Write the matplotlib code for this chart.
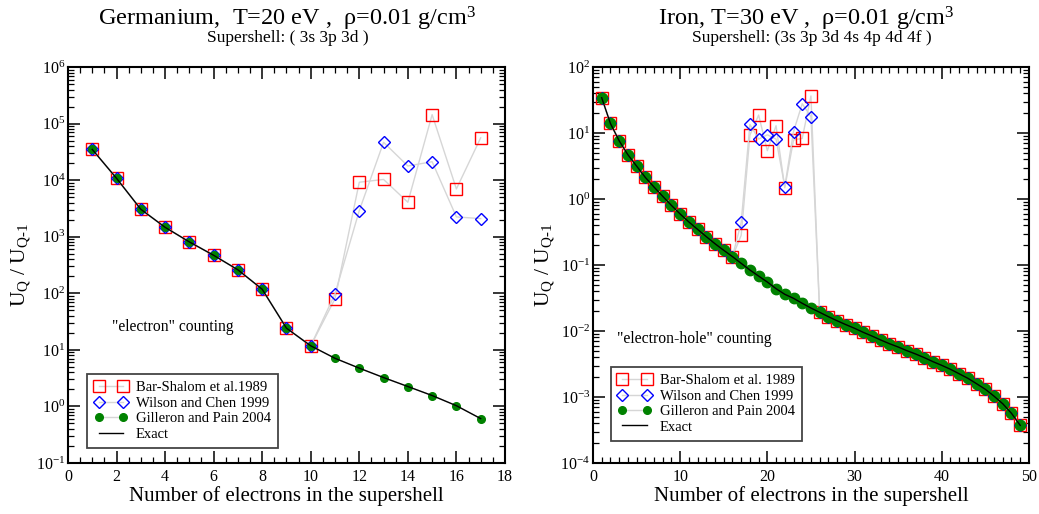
import matplotlib
matplotlib.use('Agg')
import matplotlib.pyplot as plt
from matplotlib.ticker import MultipleLocator, LogLocator, NullFormatter, LogFormatterMathtext

# ---------------- data ----------------
ge_n = list(range(1, 18))
ge_exact = [3.5e4, 1.08e4, 3.06e3, 1.47e3, 8.1e2, 4.7e2, 2.6e2, 1.18e2, 24.2, 11.8,
            7.1, 4.75, 3.24, 2.25, 1.56, 1.03, 0.61]
ge_gilleron = [3.5e4, 1.08e4, 3.06e3, 1.47e3, 8.1e2, 4.7e2, 2.6e2, 1.18e2, 24.2, 11.8,
               7.1, 4.75, 3.24, 2.25, 1.56, 1.03, 0.61]
ge_barshalom = [3.5e4, 1.08e4, 3.06e3, 1.47e3, 8.1e2, 4.7e2, 2.6e2, 1.18e2, 24.2, 11.8,
                80, 9.2e3, 1.03e4, 4.07e3, 1.44e5, 7.0e3, 5.6e4]
ge_wilson = [3.5e4, 1.08e4, 3.06e3, 1.47e3, 8.1e2, 4.7e2, 2.6e2, 1.18e2, 24.2, 11.8,
             98, 2.9e3, 4.67e4, 1.78e4, 2.12e4, 2.24e3, 2.09e3]

fe_n = list(range(1, 50))
fe_exact = [34.3, 14.0, 7.65, 4.7, 3.16, 2.13, 1.52, 1.1, 0.80, 0.593,
            0.449, 0.347, 0.269, 0.21, 0.167, 0.134, 0.106, 0.084, 0.068, 0.0552,
            0.0438, 0.036, 0.0313, 0.0263, 0.0223, 0.0192, 0.0165, 0.0143, 0.0125, 0.011,
            0.00955, 0.0084, 0.00731, 0.00643, 0.00573, 0.00504, 0.00449, 0.00395, 0.00343, 0.00302,
            0.00263, 0.00225, 0.00192, 0.00159, 0.00131, 0.00103, 0.00079, 0.000566, 0.000372]
fe_gilleron = list(fe_exact)
fe_barshalom = [34.3, 14.0, 7.65, 4.7, 3.16, 2.13, 1.52, 1.1, 0.80, 0.593,
                0.449, 0.347, 0.269, 0.21, 0.167, 0.134,
                0.282, 9.3, 18.7, 5.4, 12.9, 1.48, 7.83, 8.3, 36.4,
                0.0192, 0.0165, 0.0143, 0.0125, 0.011,
                0.00955, 0.0084, 0.00731, 0.00643, 0.00573, 0.00504, 0.00449, 0.00395, 0.00343, 0.00302,
                0.00263, 0.00225, 0.00192, 0.00159, 0.00131, 0.00103, 0.00079, 0.000566, 0.000372]
fe_wilson = [34.3, 14.0, 7.65, 4.7, 3.16, 2.13, 1.52, 1.1, 0.80, 0.593,
             0.449, 0.347, 0.269, 0.21, 0.167, 0.134,
             0.443, 13.5, 8.1, 9.4, 8.1, 1.54, 10.5, 27.8, 17.7,
             0.0192, 0.0165, 0.0143, 0.0125, 0.011,
             0.00955, 0.0084, 0.00731, 0.00643, 0.00573, 0.00504, 0.00449, 0.00395, 0.00343, 0.00302,
             0.00263, 0.00225, 0.00192, 0.00159, 0.00131, 0.00103, 0.00079, 0.000566, 0.000372]

# ---------------- style ----------------
plt.rcParams['font.family'] = ['Liberation Serif', 'DejaVu Serif']
plt.rcParams['mathtext.fontset'] = 'custom'
plt.rcParams['mathtext.rm'] = 'Liberation Serif'
plt.rcParams['mathtext.it'] = 'Liberation Serif:italic'
plt.rcParams['mathtext.bf'] = 'Liberation Serif:bold'

GRAY = '#d6d6d6'
GREEN = '#008200'

fig = plt.figure(figsize=(10.39, 5.14), dpi=100)
axL = fig.add_axes([0.0654, 0.0992, 0.4206, 0.7704])
axR = fig.add_axes([0.5707, 0.0992, 0.4196, 0.7704])


def draw(ax, n, bs, wc, gp, ex, bs_label, dot_ms):
    ax.plot(n, bs, color=GRAY, lw=1.0, marker='s', ms=8.6, mfc='none', mec='red',
            mew=1.0, label=bs_label)
    ax.plot(n, wc, color=GRAY, lw=1.0, marker='D', ms=6.3, mfc='none', mec='blue',
            mew=1.0, label='Wilson and Chen 1999')
    ax.plot(n, gp, color=GRAY, lw=1.0, marker='o', ms=dot_ms, mfc=GREEN, mec=GREEN,
            label='Gilleron and Pain 2004')
    ax.plot(n, ex, color='black', lw=1.0, label='Exact')
    ax.set_yscale('log')
    ax.tick_params(which='both', direction='in', top=True, right=True, labelsize=11.5)
    ax.tick_params(which='major', length=8.5, width=1.1)
    ax.tick_params(which='minor', length=4, width=0.9)
    ax.tick_params(axis='x', pad=4)
    ax.tick_params(axis='y', pad=2)
    ax.yaxis.set_major_locator(LogLocator(base=10, numticks=20))
    ax.yaxis.set_major_formatter(LogFormatterMathtext())
    ax.yaxis.set_minor_locator(LogLocator(base=10, subs=range(2, 10), numticks=100))
    ax.yaxis.set_minor_formatter(NullFormatter())
    for s in ax.spines.values():
        s.set_linewidth(1.5)
    ax.set_xlabel('Number of electrons in the supershell', fontsize=15, labelpad=1)
    ax.set_ylabel(r'U$_\mathrm{Q}$ / U$_\mathrm{Q\text{-}1}$', fontsize=15.5, labelpad=2)


draw(axL, ge_n, ge_barshalom, ge_wilson, ge_gilleron, ge_exact, 'Bar-Shalom et al.1989', 5.5)
axL.set_xlim(0, 18)
axL.set_ylim(1e-1, 1e6)
axL.xaxis.set_major_locator(MultipleLocator(2))
axL.xaxis.set_minor_locator(MultipleLocator(0.5))
axL.text(1.8, 25.5, '"electron" counting', fontsize=11.2, va='center', ha='left')

draw(axR, fe_n, fe_barshalom, fe_wilson, fe_gilleron, fe_exact, 'Bar-Shalom et al. 1989', 7.5)
axR.set_xlim(0, 50)
axR.set_ylim(1e-4, 1e2)
axR.xaxis.set_major_locator(MultipleLocator(10))
axR.xaxis.set_minor_locator(MultipleLocator(1))
axR.text(2.75, 0.0075, '"electron-hole" counting', fontsize=11.3, va='center', ha='left')

for ax, anchor in ((axL, (0.0435, 0.038)), (axR, (0.041, 0.056))):
    leg = ax.legend(loc='lower left', bbox_to_anchor=anchor, borderaxespad=0,
                    numpoints=2, fontsize=10.5, handlelength=2.25, handletextpad=0.6,
                    labelspacing=0.15, borderpad=0.5, fancybox=False, framealpha=1)
    leg.get_frame().set_edgecolor('#444444')
    leg.get_frame().set_linewidth(1.3)
    leg.legend_handles[2].set_markersize(5.5)

# titles
fig.text(0.2767, 0.950, 'Germanium,  T=20 eV ,  \u03c1=0.01 g/cm$^{3}$',
         ha='center', va='baseline', fontsize=17.5)
fig.text(0.2767, 0.918, 'Supershell: ( 3s 3p 3d )', ha='center', va='baseline', fontsize=12.5)
fig.text(0.7760, 0.950, 'Iron, T=30 eV ,  \u03c1=0.01 g/cm$^{3}$',
         ha='center', va='baseline', fontsize=17.5)
fig.text(0.7815, 0.918, 'Supershell: (3s 3p 3d 4s 4p 4d 4f )', ha='center', va='baseline',
         fontsize=12.5)

fig.savefig('out.png', dpi=100)
